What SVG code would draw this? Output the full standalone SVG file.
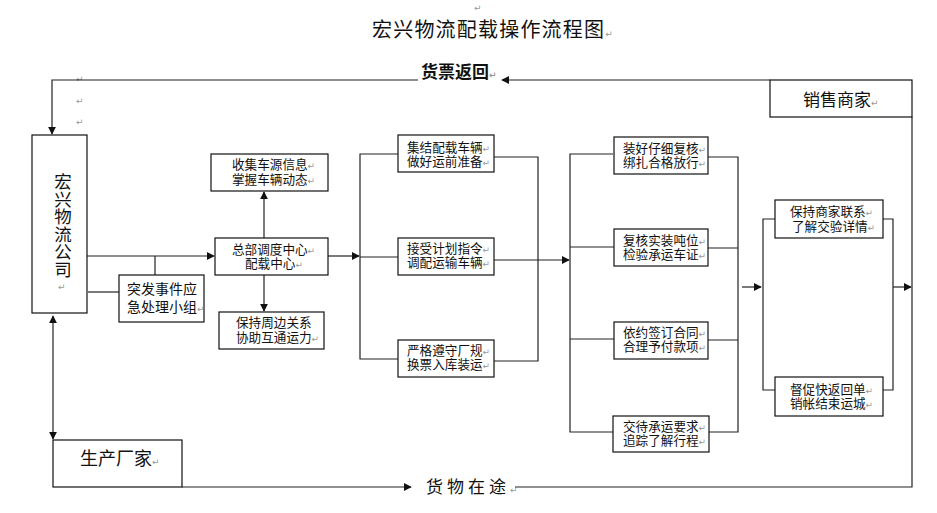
<svg xmlns="http://www.w3.org/2000/svg" width="937" height="513" viewBox="0 0 937 513">
<style>
text{font-family:"Noto Sans CJK SC","Noto Sans CJK JP",sans-serif;fill:#111}
.t{font-size:12.6px}
.pm{font-family:"DejaVu Sans",sans-serif;font-size:9px;fill:#999}
.box{fill:#fff;stroke:#111;stroke-width:1.2}
.ln{fill:none;stroke:#222;stroke-width:1.2}
</style>
<defs>
<marker id="ah" viewBox="0 0 10 10" refX="9" refY="5" markerWidth="8" markerHeight="8" markerUnits="userSpaceOnUse" orient="auto-start-reverse">
<path d="M0,0 L10,5 L0,10 z" fill="#111"/>
</marker>
</defs>
<rect width="937" height="513" fill="#fff"/>
<text class="pm" x="474" y="11">↵</text>
<text x="372" y="37" font-size="20" letter-spacing="1.2">宏兴物流配载操作流程图<tspan class="pm">↵</tspan></text>
<text x="421" y="78" font-size="17" font-weight="bold">货票返回<tspan class="pm">↵</tspan></text>
<text class="pm" x="76" y="82">↵</text>
<text class="pm" x="76" y="104">↵</text>
<text class="pm" x="76" y="125">↵</text>
<text x="426" y="493" font-size="17" letter-spacing="4">货物在途<tspan class="pm" letter-spacing="0">↵</tspan></text>

<g id="connectors">
<path class="ln" d="M770,80 H502" marker-end="url(#ah)"/>
<path class="ln" d="M418,80 H52 V134" marker-end="url(#ah)"/>
<path class="ln" d="M53,316 V439" marker-start="url(#ah)" marker-end="url(#ah)"/>
<path class="ln" d="M87,256 H214" marker-end="url(#ah)"/>
<path class="ln" d="M155,256 V275"/>
<path class="ln" d="M88,292 H119"/>
<path class="ln" d="M264,238 V192" marker-end="url(#ah)"/>
<path class="ln" d="M264,275 V311" marker-end="url(#ah)"/>
<path class="ln" d="M328,256 H359" marker-end="url(#ah)"/>
<path class="ln" d="M398,154 H360 V359 H398 M360,257 H398"/>
<path class="ln" d="M494,157 H538 V361 H494"/>
<path class="ln" d="M494,260 H569" marker-end="url(#ah)"/>
<path class="ln" d="M613,154 H570 V432 H613 M570,247 H614 M570,339 H614"/>
<path class="ln" d="M708,157 H738 V432 H709 M708,248 H738 M708,340 H738"/>
<path class="ln" d="M742,287 H761" marker-end="url(#ah)"/>
<path class="ln" d="M775,219 H763 V390 H775"/>
<path class="ln" d="M883,219 H893 V390 H883"/>
<path class="ln" d="M893,287 H911" marker-end="url(#ah)"/>
<path class="ln" d="M912,117 V487 H515"/>
<path class="ln" d="M182,487 H411" marker-end="url(#ah)"/>
</g>

<g id="n-company">
<rect class="box" x="32" y="135" width="55" height="178"/>
<text x="63" y="173" font-size="17.5" writing-mode="vertical-rl">宏兴物流公司</text>
<text class="pm" x="58" y="290">↵</text>
</g>

<g id="n-emergency">
<rect class="box" x="119" y="275" width="85" height="47"/>
<text font-size="14"><tspan x="127" y="294">突发事件应</tspan><tspan x="127" y="312">急处理小组</tspan><tspan class="pm">↵</tspan></text>
</g>

<g id="n-hq">
<rect class="box" x="215" y="238" width="113" height="37"/>
<text class="t"><tspan x="232" y="254">总部调度中心</tspan><tspan class="pm">↵</tspan><tspan x="245" y="268">配载中心</tspan><tspan class="pm">↵</tspan></text>
</g>

<g id="n-collect">
<rect class="box" x="211" y="154" width="117" height="37"/>
<text class="t"><tspan x="232" y="169">收集车源信息</tspan><tspan class="pm">↵</tspan><tspan x="232" y="184">掌握车辆动态</tspan><tspan class="pm">↵</tspan></text>
</g>

<g id="n-relation">
<rect class="box" x="219" y="312" width="105" height="37"/>
<text class="t"><tspan x="236" y="327">保持周边关系</tspan><tspan x="236" y="342">协助互通运力</tspan><tspan class="pm">↵</tspan></text>
</g>

<g id="n-c2a">
<rect class="box" x="398" y="135" width="96" height="37"/>
<text class="t"><tspan x="407" y="152">集结配载车辆</tspan><tspan class="pm">↵</tspan><tspan x="407" y="166">做好运前准备</tspan><tspan class="pm">↵</tspan></text>
</g>
<g id="n-c2b">
<rect class="box" x="398" y="238" width="96" height="37"/>
<text class="t"><tspan x="407" y="253">接受计划指令</tspan><tspan class="pm">↵</tspan><tspan x="407" y="267">调配运输车辆</tspan><tspan class="pm">↵</tspan></text>
</g>
<g id="n-c2c">
<rect class="box" x="398" y="340" width="96" height="37"/>
<text class="t"><tspan x="407" y="355">严格遵守厂规</tspan><tspan class="pm">↵</tspan><tspan x="407" y="369">换票入库装运</tspan><tspan class="pm">↵</tspan></text>
</g>

<g id="n-c3a">
<rect class="box" x="614" y="137" width="94" height="37"/>
<text class="t"><tspan x="623" y="153">装好仔细复核</tspan><tspan class="pm">↵</tspan><tspan x="623" y="167">绑扎合格放行</tspan><tspan class="pm">↵</tspan></text>
</g>
<g id="n-c3b">
<rect class="box" x="614" y="229" width="94" height="37"/>
<text class="t"><tspan x="623" y="245">复核实装吨位</tspan><tspan class="pm">↵</tspan><tspan x="623" y="259">检验承运车证</tspan><tspan class="pm">↵</tspan></text>
</g>
<g id="n-c3c">
<rect class="box" x="614" y="322" width="94" height="37"/>
<text class="t"><tspan x="623" y="337">依约签订合同</tspan><tspan class="pm">↵</tspan><tspan x="623" y="351">合理予付款项</tspan><tspan class="pm">↵</tspan></text>
</g>
<g id="n-c3d">
<rect class="box" x="613" y="416" width="96" height="36"/>
<text class="t"><tspan x="623" y="431">交待承运要求</tspan><tspan class="pm">↵</tspan><tspan x="623" y="445">追踪了解行程</tspan><tspan class="pm">↵</tspan></text>
</g>

<g id="n-c4a">
<rect class="box" x="775" y="200" width="108" height="38"/>
<text class="t"><tspan x="790" y="216">保持商家联系</tspan><tspan class="pm">↵</tspan><tspan x="792" y="231">了解交验详情</tspan><tspan class="pm">↵</tspan></text>
</g>
<g id="n-c4b">
<rect class="box" x="775" y="377" width="108" height="39"/>
<text class="t"><tspan x="790" y="394">督促快返回单</tspan><tspan class="pm">↵</tspan><tspan x="790" y="408">销帐结束运城</tspan><tspan class="pm">↵</tspan></text>
</g>

<g id="n-seller">
<rect class="box" x="770" y="80" width="142" height="37"/>
<text x="803" y="106" font-size="17">销售商家<tspan class="pm">↵</tspan></text>
</g>

<g id="n-factory">
<rect class="box" x="53" y="440" width="129" height="47"/>
<text x="80" y="465" font-size="18">生产厂家<tspan class="pm">↵</tspan></text>
</g>
</svg>
